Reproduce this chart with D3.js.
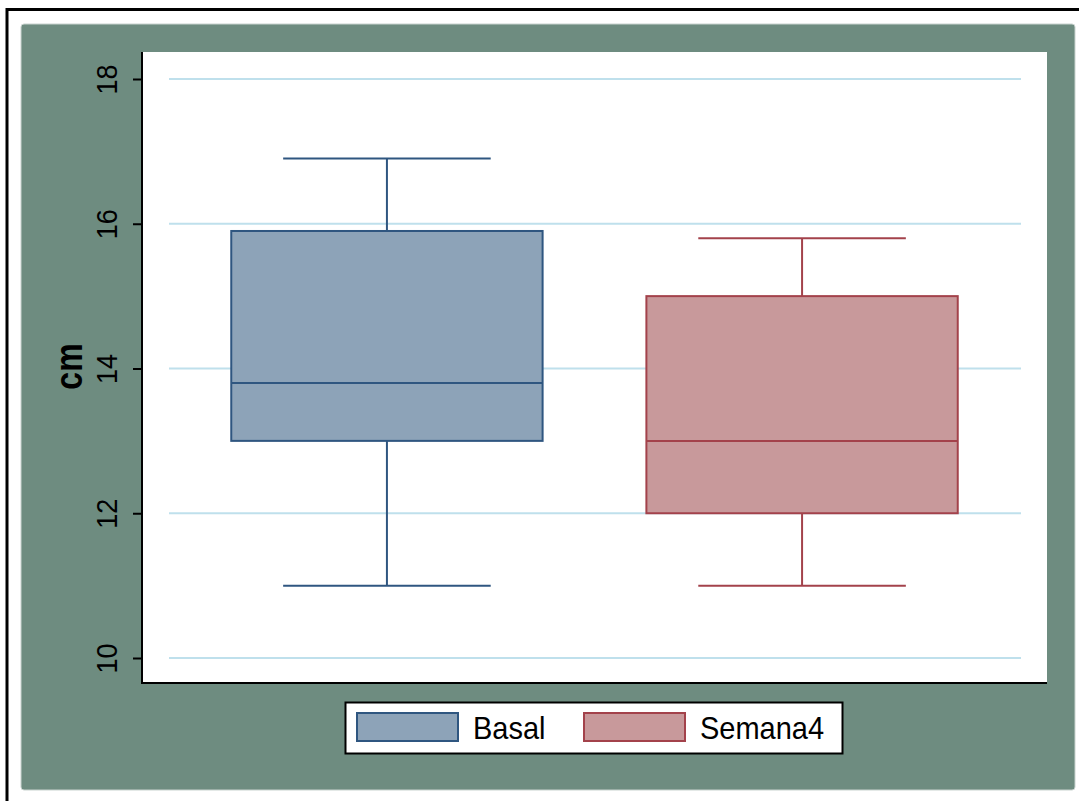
<!DOCTYPE html>
<html>
<head>
<meta charset="utf-8">
<script src="https://cdn.jsdelivr.net/npm/d3@7"></script>
<style>
  html, body { margin: 0; padding: 0; background: #ffffff; }
  svg { display: block; }
  text { font-family: "Liberation Sans", Arial, sans-serif; }
</style>
</head>
<body>
<script>
// Box plot data (cm)
const groups   = ["Basal", "Semana4"];
const whiskLo  = [11.0, 11.0];
const q1       = [13.0, 12.0];
const median   = [13.8, 13.0];
const q3       = [15.9, 15.0];
const whiskHi  = [16.9, 15.8];
const yTicks   = [10, 12, 14, 16, 18];
const fills    = ["#8da3b8", "#c8999b"];
const strokes  = ["#2f5680", "#a3424b"];

const W = 1079, H = 801;
const svg = d3.select("body").append("svg").attr("width", W).attr("height", H);

// outer frame (top and left edges)
svg.append("line").attr("x1", 7).attr("x2", W).attr("y1", 9.5).attr("y2", 9.5)
  .attr("stroke", "#000").attr("stroke-width", 3);
svg.append("line").attr("x1", 7).attr("x2", 7).attr("y1", 8).attr("y2", H)
  .attr("stroke", "#000").attr("stroke-width", 3);

// graph region
svg.append("rect").attr("x", 21).attr("y", 24).attr("width", 1054).attr("height", 766)
  .attr("rx", 3).attr("fill", "#6e8c80").attr("stroke", "#c9d3cf").attr("stroke-width", 1);

// plot region
const plot = { left: 142, right: 1047, top: 52, bottom: 683 };
svg.append("rect").attr("x", plot.left).attr("y", plot.top)
  .attr("width", plot.right - plot.left).attr("height", plot.bottom - plot.top)
  .attr("fill", "#ffffff");

const y = d3.scaleLinear().domain([10, 18]).range([658, 79]);
const x = d3.scaleBand().domain(groups).range([plot.left, plot.right])
  .paddingInner(0.25).paddingOuter(0.215);

// gridlines
svg.append("g").selectAll("line").data(yTicks).join("line")
  .attr("x1", 169).attr("x2", 1021)
  .attr("y1", d => y(d)).attr("y2", d => y(d))
  .attr("stroke", "#bfe0ec").attr("stroke-width", 2);

// y axis
const yAxis = d3.axisLeft(y).tickValues(yTicks).tickSize(9).tickPadding(16)
  .tickFormat(d3.format("d"));
const ga = svg.append("g").attr("transform", `translate(${plot.left},0)`).call(yAxis);
ga.select(".domain").remove();
ga.selectAll(".tick line").attr("stroke", "#000").attr("stroke-width", 2);
ga.selectAll(".tick text")
  .attr("x", null).attr("dy", null)
  .attr("transform", "translate(-25,0) rotate(-90) scale(1,1.12)")
  .attr("text-anchor", "middle")
  .attr("fill", "#000")
  .style("font-size", "27px");

// axis lines
svg.append("line").attr("x1", plot.left).attr("x2", plot.left)
  .attr("y1", plot.top).attr("y2", plot.bottom + 1)
  .attr("stroke", "#000").attr("stroke-width", 2);
svg.append("line").attr("x1", plot.left).attr("x2", plot.right)
  .attr("y1", plot.bottom).attr("y2", plot.bottom)
  .attr("stroke", "#000").attr("stroke-width", 2);

// y title
svg.append("text")
  .attr("transform", `translate(82,${(plot.top + plot.bottom) / 2 - 1}) rotate(-90) scale(1,1.22)`)
  .attr("text-anchor", "middle")
  .style("font-size", "32px").style("font-weight", "bold")
  .text("cm");

// boxes
const bw = x.bandwidth();
const capW = bw * 2 / 3;
groups.forEach((g, i) => {
  const cx = x(g) + bw / 2;
  const gg = svg.append("g").attr("stroke", strokes[i]).attr("stroke-width", 2);
  // whiskers
  gg.append("line").attr("x1", cx).attr("x2", cx).attr("y1", y(whiskHi[i])).attr("y2", y(q3[i]));
  gg.append("line").attr("x1", cx).attr("x2", cx).attr("y1", y(q1[i])).attr("y2", y(whiskLo[i]));
  gg.append("line").attr("x1", cx - capW / 2).attr("x2", cx + capW / 2)
    .attr("y1", y(whiskHi[i])).attr("y2", y(whiskHi[i]));
  gg.append("line").attr("x1", cx - capW / 2).attr("x2", cx + capW / 2)
    .attr("y1", y(whiskLo[i])).attr("y2", y(whiskLo[i]));
  // box
  gg.append("rect").attr("x", x(g)).attr("y", y(q3[i]))
    .attr("width", bw).attr("height", y(q1[i]) - y(q3[i]))
    .attr("fill", fills[i]);
  // median
  gg.append("line").attr("x1", x(g)).attr("x2", x(g) + bw)
    .attr("y1", y(median[i])).attr("y2", y(median[i]));
});

// legend
const lg = svg.append("g");
lg.append("rect").attr("x", 345.5).attr("y", 702.5).attr("width", 497).attr("height", 51)
  .attr("fill", "#fff").attr("stroke", "#000").attr("stroke-width", 2);
const legX = [357, 584];
groups.forEach((g, i) => {
  lg.append("rect").attr("x", legX[i]).attr("y", 713).attr("width", 101).attr("height", 28)
    .attr("fill", fills[i]).attr("stroke", strokes[i]).attr("stroke-width", 2);
  lg.append("text").attr("transform", `translate(${legX[i] + 116},739) scale(1,1.06)`)
    .style("font-size", "29px").attr("fill", "#000").text(g);
});
</script>
</body>
</html>
